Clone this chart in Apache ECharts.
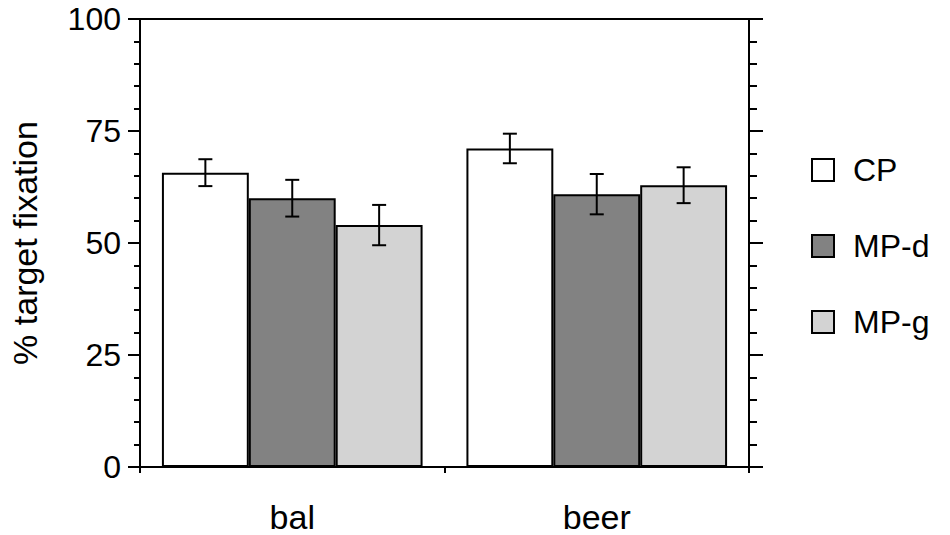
<!DOCTYPE html>
<html>
<head>
<meta charset="utf-8">
<script src="https://cdn.jsdelivr.net/npm/echarts@6/dist/echarts.min.js"></script>
<style>
  html, body { margin: 0; padding: 0; background: #fff; }
  #chart { width: 950px; height: 535px; }
</style>
</head>
<body>
<div id="chart"></div>
<script>
var categories = ['bal', 'beer'];
var seriesNames = ['CP', 'MP-d', 'MP-g'];
var cpValues = [65.7, 71.1];
var mpdValues = [60.0, 60.9];
var mpgValues = [54.0, 62.9];
// half-width of each error bar
var cpErr = [3.0, 3.3];
var mpdErr = [4.1, 4.5];
var mpgErr = [4.5, 4.0];
var yTicks = [0, 25, 50, 75, 100];

(function() {
  var font = '"Liberation Sans", Arial, Helvetica, sans-serif';
  var fills = ['#ffffff', '#828282', '#d3d3d3'];
  var gapPct = 14.4;
  var values = [cpValues, mpdValues, mpgValues];
  var errs = [cpErr, mpdErr, mpgErr];

  var errData = [];
  values.forEach(function(vals, s) {
    vals.forEach(function(v, c) {
      errData.push([c, v - errs[s][c], v + errs[s][c], s]);
    });
  });

  var chart = echarts.init(document.getElementById('chart'), null, { renderer: 'svg' });

  var yCommon = {
    type: 'value', min: yTicks[0], max: yTicks[yTicks.length - 1], interval: 25,
    splitLine: { show: false },
    axisLine: { show: true, lineStyle: { color: '#000', width: 2 } }
  };

  chart.setOption({
    animation: false,
    backgroundColor: '#fff',
    grid: { left: 140, right: 201, top: 19, bottom: 68, show: true, borderColor: '#000', borderWidth: 2, backgroundColor: 'transparent' },
    legend: {
      data: seriesNames,
      orient: 'vertical',
      left: 806, top: 149,
      itemWidth: 22, itemHeight: 22, itemGap: 44,
      icon: 'rect',
      itemStyle: { borderColor: '#000', borderWidth: 2 },
      textStyle: { fontFamily: font, fontSize: 32, color: '#000', lineHeight: 22, padding: [8, 0, 0, 14] }
    },
    xAxis: {
      type: 'category', data: categories,
      axisLine: { show: true, lineStyle: { color: '#000', width: 2 } },
      axisTick: { show: true, length: 6, lineStyle: { color: '#000', width: 2 } },
      axisLabel: { fontFamily: font, fontSize: 34, color: '#000', margin: 33 }
    },
    yAxis: [
      Object.assign({}, yCommon, {
        position: 'left',
        name: '% target fixation', nameLocation: 'middle', nameGap: 98,
        nameTextStyle: { fontFamily: font, fontSize: 34, color: '#000' },
        axisTick: { show: true, length: 12, lineStyle: { color: '#000', width: 2 } },
        minorTick: { show: true, splitNumber: 5, length: 6, lineStyle: { color: '#000', width: 2 } },
        axisLabel: { fontFamily: font, fontSize: 32, color: '#000', margin: 19 }
      }),
      Object.assign({}, yCommon, {
        position: 'right',
        axisTick: { show: true, length: 14, lineStyle: { color: '#000', width: 2 } },
        minorTick: { show: true, splitNumber: 5, length: 8, lineStyle: { color: '#000', width: 2 } },
        axisLabel: { show: false }
      })
    ],
    series: seriesNames.map(function(name, i) {
      return {
        name: name, type: 'bar', data: values[i],
        barGap: '0%', barCategoryGap: gapPct + '%',
        itemStyle: { color: fills[i], borderColor: '#000', borderWidth: 2 }
      };
    }).concat([{
      type: 'custom',
      name: 'err',
      data: errData,
      encode: { x: 0, y: [1, 2] },
      z: 5,
      renderItem: function(params, api) {
        var c = api.value(0), s = api.value(3);
        var lo = api.coord([c, api.value(1)]);
        var hi = api.coord([c, api.value(2)]);
        var band = api.size([1, 0])[0];
        var bw = band * (1 - gapPct / 100) / 3;
        var x = lo[0] + (s - 1) * bw;
        var cap = 7;
        var st = { stroke: '#000', lineWidth: 2 };
        return {
          type: 'group',
          children: [
            { type: 'line', shape: { x1: x, y1: lo[1], x2: x, y2: hi[1] }, style: st },
            { type: 'line', shape: { x1: x - cap, y1: lo[1], x2: x + cap, y2: lo[1] }, style: st },
            { type: 'line', shape: { x1: x - cap, y1: hi[1], x2: x + cap, y2: hi[1] }, style: st }
          ]
        };
      }
    }])
  });
  window.addEventListener('resize', function() { chart.resize(); });
})();
</script>
</body>
</html>
